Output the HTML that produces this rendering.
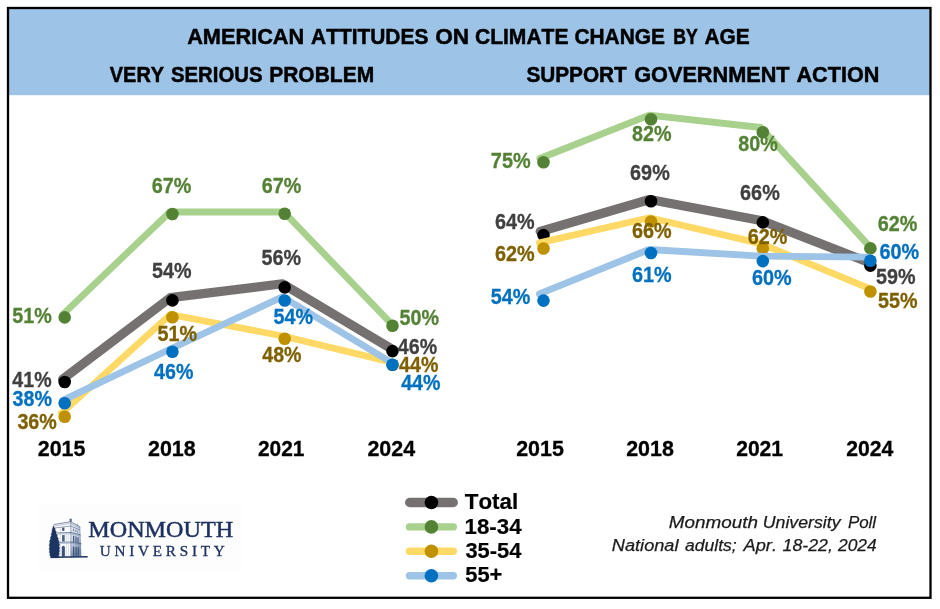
<!DOCTYPE html>
<html lang="en"><head><meta charset="utf-8"><title>American Attitudes on Climate Change by Age</title>
<style>
html,body{margin:0;padding:0;background:#fff;}
body{width:940px;height:609px;overflow:hidden;}
svg{display:block;filter:blur(0.45px);}
text{font-family:"Liberation Sans",sans-serif;font-kerning:none;}
.hd{font-weight:bold;font-size:22.3px;fill:#000;stroke:#000;stroke-width:0.5px;}
.yr{font-weight:bold;font-size:22.4px;fill:#000;stroke:#000;stroke-width:0.3px;}
.dl{font-weight:bold;font-size:21.5px;stroke-width:0.3px;}
.lg{font-weight:bold;font-size:22px;fill:#000;stroke:#000;stroke-width:0.2px;}
.src{font-style:italic;font-size:17.2px;fill:#1a1a1a;stroke:#1a1a1a;stroke-width:0.25px;}
.logo text{font-family:"Liberation Serif",serif;fill:#1c3160;stroke:#1c3160;}
</style></head><body>
<svg width="940" height="609" viewBox="0 0 940 609">
<rect x="0" y="0" width="940" height="609" fill="#fff"/>
<rect x="8" y="8" width="923" height="87.2" fill="#9DC3E6"/>
<rect x="8" y="8" width="922.5" height="589.8" fill="none" stroke="#000" stroke-width="2.3"/>
<text class="hd" y="43.8"><tspan x="187.16" textLength="117.11" lengthAdjust="spacingAndGlyphs">AMERICAN</tspan> <tspan x="311.08" textLength="117.24" lengthAdjust="spacingAndGlyphs">ATTITUDES</tspan> <tspan x="435.27" textLength="33.95" lengthAdjust="spacingAndGlyphs">ON</tspan> <tspan x="474.94" textLength="93.59" lengthAdjust="spacingAndGlyphs">CLIMATE</tspan> <tspan x="574.44" textLength="90.57" lengthAdjust="spacingAndGlyphs">CHANGE</tspan> <tspan x="673.22" textLength="24.57" lengthAdjust="spacingAndGlyphs">BY</tspan> <tspan x="704.48" textLength="45.34" lengthAdjust="spacingAndGlyphs">AGE</tspan></text>
<text class="hd" y="82.2"><tspan x="109.76" textLength="54.36" lengthAdjust="spacingAndGlyphs">VERY</tspan> <tspan x="170.91" textLength="91.68" lengthAdjust="spacingAndGlyphs">SERIOUS</tspan> <tspan x="269.2" textLength="105.01" lengthAdjust="spacingAndGlyphs">PROBLEM</tspan></text>
<text class="hd" y="82.2"><tspan x="526.4" textLength="100.42" lengthAdjust="spacingAndGlyphs">SUPPORT</tspan> <tspan x="634.21" textLength="155.42" lengthAdjust="spacingAndGlyphs">GOVERNMENT</tspan> <tspan x="796.46" textLength="82.9" lengthAdjust="spacingAndGlyphs">ACTION</tspan></text>
<g id="left-chart">
<polyline points="62.7,379.2 170.4,297.6 282.4,283.8 390.5,348.3" fill="none" stroke="#767171" stroke-width="9.2" stroke-linecap="round" stroke-linejoin="round"/>
<circle cx="64.7" cy="382.0" r="6.3" fill="#000000"/>
<circle cx="172.4" cy="300.4" r="6.3" fill="#000000"/>
<circle cx="284.7" cy="287.4" r="6.3" fill="#000000"/>
<circle cx="392.5" cy="351.1" r="6.3" fill="#000000"/>
<polyline points="62.7,314.6 169.9,212.0 283.9,212.0 390.5,322.9" fill="none" stroke="#A9D18E" stroke-width="6.8" stroke-linecap="round" stroke-linejoin="round"/>
<circle cx="64.7" cy="317.4" r="6.3" fill="#548235"/>
<circle cx="172.4" cy="214.0" r="6.3" fill="#548235"/>
<circle cx="284.7" cy="213.8" r="6.3" fill="#548235"/>
<circle cx="392.5" cy="325.7" r="6.3" fill="#548235"/>
<polyline points="61.5,413.2 170.4,314.5 282.7,336.0 390.5,361.9" fill="none" stroke="#FFD966" stroke-width="6.8" stroke-linecap="round" stroke-linejoin="round"/>
<circle cx="64.7" cy="416.7" r="6.3" fill="#BF9000"/>
<circle cx="172.4" cy="317.3" r="6.3" fill="#BF9000"/>
<circle cx="284.7" cy="338.8" r="6.3" fill="#BF9000"/>
<circle cx="392.5" cy="364.7" r="6.3" fill="#BF9000"/>
<polyline points="62.7,400.4 170.4,349.0 282.4,296.9 390.5,361.9" fill="none" stroke="#9DC3E6" stroke-width="6.8" stroke-linecap="round" stroke-linejoin="round"/>
<circle cx="64.7" cy="403.2" r="6.3" fill="#0070C0"/>
<circle cx="172.4" cy="351.8" r="6.3" fill="#0070C0"/>
<circle cx="284.7" cy="300.5" r="6.3" fill="#0070C0"/>
<circle cx="392.5" cy="364.7" r="6.3" fill="#0070C0"/>
</g>
<g id="right-chart">
<polyline points="540.2,231.5 649.6,199.5 760.8,220.4 868.4,262.3" fill="none" stroke="#767171" stroke-width="9.2" stroke-linecap="round" stroke-linejoin="round"/>
<circle cx="543.5" cy="235.1" r="6.3" fill="#000000"/>
<circle cx="651.0" cy="201.3" r="6.3" fill="#000000"/>
<circle cx="762.8" cy="222.4" r="6.3" fill="#000000"/>
<circle cx="870.4" cy="265.6" r="6.3" fill="#000000"/>
<polyline points="539.8,158.5 649.3,115.2 760.8,127.5 868.4,245.1" fill="none" stroke="#A9D18E" stroke-width="6.8" stroke-linecap="round" stroke-linejoin="round"/>
<circle cx="543.5" cy="162.3" r="6.3" fill="#548235"/>
<circle cx="651.0" cy="119.2" r="6.3" fill="#548235"/>
<circle cx="762.8" cy="132.2" r="6.3" fill="#548235"/>
<circle cx="870.4" cy="248.4" r="6.3" fill="#548235"/>
<polyline points="539.4,242.9 649.5,217.7 760.8,243.6 868.4,288.2" fill="none" stroke="#FFD966" stroke-width="6.8" stroke-linecap="round" stroke-linejoin="round"/>
<circle cx="543.5" cy="248.5" r="6.3" fill="#BF9000"/>
<circle cx="651.0" cy="221.5" r="6.3" fill="#BF9000"/>
<circle cx="762.8" cy="248.5" r="6.3" fill="#BF9000"/>
<circle cx="870.4" cy="291.5" r="6.3" fill="#BF9000"/>
<polyline points="539.4,293.9 649.0,249.5 760.8,256.2 868.4,257.2" fill="none" stroke="#9DC3E6" stroke-width="6.8" stroke-linecap="round" stroke-linejoin="round"/>
<circle cx="543.5" cy="300.6" r="6.3" fill="#0070C0"/>
<circle cx="651.0" cy="253.0" r="6.3" fill="#0070C0"/>
<circle cx="762.8" cy="261.1" r="6.3" fill="#0070C0"/>
<circle cx="870.4" cy="260.7" r="6.3" fill="#0070C0"/>
</g>
<g id="labels">
<text class="dl" x="12.24" y="322.5" fill="#548235" stroke="#548235" textLength="39.53" lengthAdjust="spacingAndGlyphs">51%</text>
<text class="dl" x="12.35" y="387.3" fill="#404040" stroke="#404040" textLength="39.21" lengthAdjust="spacingAndGlyphs">41%</text>
<text class="dl" x="12.55" y="406.3" fill="#0070C0" stroke="#0070C0" textLength="39.37" lengthAdjust="spacingAndGlyphs">38%</text>
<text class="dl" x="17.45" y="429.2" fill="#7F6000" stroke="#7F6000" textLength="39.37" lengthAdjust="spacingAndGlyphs">36%</text>
<text class="dl" x="151.82" y="193.2" fill="#548235" stroke="#548235" textLength="39.65" lengthAdjust="spacingAndGlyphs">67%</text>
<text class="dl" x="151.94" y="277.9" fill="#404040" stroke="#404040" textLength="39.53" lengthAdjust="spacingAndGlyphs">54%</text>
<text class="dl" x="157.49" y="341.4" fill="#7F6000" stroke="#7F6000" textLength="39.53" lengthAdjust="spacingAndGlyphs">51%</text>
<text class="dl" x="154.1" y="379.1" fill="#0070C0" stroke="#0070C0" textLength="39.21" lengthAdjust="spacingAndGlyphs">46%</text>
<text class="dl" x="261.82" y="193.2" fill="#548235" stroke="#548235" textLength="39.65" lengthAdjust="spacingAndGlyphs">67%</text>
<text class="dl" x="261.54" y="264.6" fill="#404040" stroke="#404040" textLength="39.53" lengthAdjust="spacingAndGlyphs">56%</text>
<text class="dl" x="273.44" y="323.5" fill="#0070C0" stroke="#0070C0" textLength="39.53" lengthAdjust="spacingAndGlyphs">54%</text>
<text class="dl" x="262.25" y="362.4" fill="#7F6000" stroke="#7F6000" textLength="39.21" lengthAdjust="spacingAndGlyphs">48%</text>
<text class="dl" x="399.44" y="325.2" fill="#548235" stroke="#548235" textLength="39.53" lengthAdjust="spacingAndGlyphs">50%</text>
<text class="dl" x="397.85" y="354.3" fill="#404040" stroke="#404040" textLength="39.21" lengthAdjust="spacingAndGlyphs">46%</text>
<text class="dl" x="399.1" y="371.5" fill="#7F6000" stroke="#7F6000" textLength="39.21" lengthAdjust="spacingAndGlyphs">44%</text>
<text class="dl" x="401.2" y="389.5" fill="#0070C0" stroke="#0070C0" textLength="39.21" lengthAdjust="spacingAndGlyphs">44%</text>
<text class="dl" x="490.85" y="167.5" fill="#548235" stroke="#548235" textLength="39.78" lengthAdjust="spacingAndGlyphs">75%</text>
<text class="dl" x="494.92" y="228.5" fill="#404040" stroke="#404040" textLength="39.65" lengthAdjust="spacingAndGlyphs">64%</text>
<text class="dl" x="494.92" y="260.9" fill="#7F6000" stroke="#7F6000" textLength="39.65" lengthAdjust="spacingAndGlyphs">62%</text>
<text class="dl" x="490.74" y="303.5" fill="#0070C0" stroke="#0070C0" textLength="39.53" lengthAdjust="spacingAndGlyphs">54%</text>
<text class="dl" x="632.12" y="141.1" fill="#548235" stroke="#548235" textLength="39.55" lengthAdjust="spacingAndGlyphs">82%</text>
<text class="dl" x="630.12" y="180.0" fill="#404040" stroke="#404040" textLength="39.65" lengthAdjust="spacingAndGlyphs">69%</text>
<text class="dl" x="632.02" y="237.9" fill="#7F6000" stroke="#7F6000" textLength="39.65" lengthAdjust="spacingAndGlyphs">66%</text>
<text class="dl" x="632.02" y="282.0" fill="#0070C0" stroke="#0070C0" textLength="39.65" lengthAdjust="spacingAndGlyphs">61%</text>
<text class="dl" x="738.17" y="150.9" fill="#548235" stroke="#548235" textLength="39.55" lengthAdjust="spacingAndGlyphs">80%</text>
<text class="dl" x="740.12" y="199.7" fill="#404040" stroke="#404040" textLength="39.65" lengthAdjust="spacingAndGlyphs">66%</text>
<text class="dl" x="747.67" y="243.5" fill="#7F6000" stroke="#7F6000" textLength="39.65" lengthAdjust="spacingAndGlyphs">62%</text>
<text class="dl" x="751.92" y="284.9" fill="#0070C0" stroke="#0070C0" textLength="39.65" lengthAdjust="spacingAndGlyphs">60%</text>
<text class="dl" x="877.82" y="231.3" fill="#548235" stroke="#548235" textLength="39.65" lengthAdjust="spacingAndGlyphs">62%</text>
<text class="dl" x="876.04" y="284.3" fill="#404040" stroke="#404040" textLength="39.53" lengthAdjust="spacingAndGlyphs">59%</text>
<text class="dl" x="877.94" y="308.4" fill="#7F6000" stroke="#7F6000" textLength="39.53" lengthAdjust="spacingAndGlyphs">55%</text>
<text class="dl" x="879.52" y="259.1" fill="#0070C0" stroke="#0070C0" textLength="39.65" lengthAdjust="spacingAndGlyphs">60%</text>
</g>
<g id="years">
<text class="yr" x="37.76" y="456.2" textLength="47.74" lengthAdjust="spacingAndGlyphs">2015</text>
<text class="yr" x="147.96" y="456.2" textLength="47.7" lengthAdjust="spacingAndGlyphs">2018</text>
<text class="yr" x="257.98" y="456.2" textLength="46.51" lengthAdjust="spacingAndGlyphs">2021</text>
<text class="yr" x="367.46" y="456.2" textLength="47.66" lengthAdjust="spacingAndGlyphs">2024</text>
<text class="yr" x="516.16" y="456.2" textLength="47.74" lengthAdjust="spacingAndGlyphs">2015</text>
<text class="yr" x="626.16" y="456.2" textLength="47.7" lengthAdjust="spacingAndGlyphs">2018</text>
<text class="yr" x="736.17" y="456.2" textLength="46.92" lengthAdjust="spacingAndGlyphs">2021</text>
<text class="yr" x="846.17" y="456.2" textLength="47.15" lengthAdjust="spacingAndGlyphs">2024</text>
</g>
<g id="legend">
<line x1="409.8" y1="502.5" x2="453.2" y2="502.5" stroke="#767171" stroke-width="9.5" stroke-linecap="round"/>
<circle cx="431.4" cy="502.5" r="6.8" fill="#000000"/>
<text class="lg" x="464.75" y="509.3" textLength="53.44" lengthAdjust="spacingAndGlyphs">Total</text>
<line x1="409.5" y1="526.9" x2="453.3" y2="526.9" stroke="#A9D18E" stroke-width="7.4" stroke-linecap="round"/>
<circle cx="431.4" cy="526.9" r="6.8" fill="#548235"/>
<text class="lg" x="464.6" y="533.5" textLength="56.92" lengthAdjust="spacingAndGlyphs">18-34</text>
<line x1="409.5" y1="551.3" x2="453.3" y2="551.3" stroke="#FFD966" stroke-width="7.4" stroke-linecap="round"/>
<circle cx="431.4" cy="551.3" r="6.8" fill="#BF9000"/>
<text class="lg" x="465.4" y="557.7" textLength="55.92" lengthAdjust="spacingAndGlyphs">35-54</text>
<line x1="409.5" y1="575.7" x2="453.3" y2="575.7" stroke="#9DC3E6" stroke-width="7.4" stroke-linecap="round"/>
<circle cx="431.4" cy="575.7" r="6.8" fill="#0070C0"/>
<text class="lg" x="465.23" y="582.2" textLength="37.16" lengthAdjust="spacingAndGlyphs">55+</text>
</g>
<text class="src" y="527.9"><tspan x="668.82" textLength="89.15" lengthAdjust="spacingAndGlyphs">Monmouth</tspan> <tspan x="762.78" textLength="77.73" lengthAdjust="spacingAndGlyphs">University</tspan> <tspan x="847.88" textLength="28.24" lengthAdjust="spacingAndGlyphs">Poll</tspan></text>
<text class="src" y="551.4"><tspan x="611.84" textLength="66.65" lengthAdjust="spacingAndGlyphs">National</tspan> <tspan x="685.01" textLength="51.69" lengthAdjust="spacingAndGlyphs">adults;</tspan> <tspan x="743.5" textLength="33.54" lengthAdjust="spacingAndGlyphs">Apr.</tspan> <tspan x="782.64" textLength="50.22" lengthAdjust="spacingAndGlyphs">18-22,</tspan> <tspan x="838.0" textLength="38.75" lengthAdjust="spacingAndGlyphs">2024</tspan></text>
<g class="logo">
<rect x="38" y="503" width="204" height="68" fill="#fdfdfd"/>
<defs>
<linearGradient id="rf" x1="0" y1="0" x2="0.35" y2="1"><stop offset="0" stop-color="#f1f3f8"/><stop offset="0.55" stop-color="#cdd5e3"/><stop offset="1" stop-color="#6f85a8"/></linearGradient>
</defs>
<g id="logo-icon">
<polygon points="54.3,524.7 70.8,521.9 70.8,557.2 54.3,557.5" fill="#fbfcfe"/>
<polygon points="70.8,521.9 79.7,526.9 81.1,556.6 70.8,557.2" fill="url(#rf)"/>
<g fill="none" stroke="#1b3461" stroke-width="0.55" stroke-linecap="round">
<path d="M54.0,524.5 L70.7,521.7 L79.9,526.8"/>
<path d="M54.8,525.9 L70.7,523.3 L79.6,528.0" stroke-width="0.4" stroke="#5a6f96"/>
<path d="M55.4,527.9 L70.8,526.0 L79.8,529.9" stroke-width="0.45"/>
<path d="M57.2,533.0 L70.8,532.5 L80.3,534.8" stroke-width="0.6"/>
<path d="M57.6,534.2 L70.8,533.8 L80.4,536.0" stroke-width="0.35" stroke="#5a6f96"/>
<path d="M58.6,542.4 L70.8,542.0 L80.9,543.6" stroke-width="0.6"/>
<path d="M58.8,543.6 L70.8,543.3 L81.0,544.8" stroke-width="0.35" stroke="#5a6f96"/>
<path d="M70.8,521.9 V557.2" stroke-width="0.45" stroke="#3c5482"/>
<path d="M79.8,527 L81.1,556.6" stroke-width="0.4" stroke="#3c5482"/>
<path d="M66.4,534 V556.8 M68.4,534 V556.8 M60.3,528 V557" stroke-width="0.35" stroke="#9aa9c4"/>
<path d="M70.0,518.9 h1.5 v2.6 h-1.5 z" fill="#5a6f96" stroke-width="0.3"/>
<path d="M77.6,524.2 v1.6" stroke-width="0.5" stroke="#5a6f96"/>
</g>
<g fill="#1b3461">
<rect x="62.2" y="527.6" width="2.2" height="3.3" opacity="0.85"/>
<rect x="62.1" y="535.1" width="2.6" height="6.4" opacity="0.8"/>
<path d="M61.8,556.8 V547.0 Q63.3,544.6 64.9,547.0 V556.8 Z" opacity="0.85"/>
<rect x="73.0" y="528.6" width="1.0" height="2.6" opacity="0.55"/><rect x="75.3" y="529.6" width="1.0" height="2.4" opacity="0.55"/><rect x="77.3" y="530.5" width="0.9" height="2.2" opacity="0.55"/>
<rect x="73.0" y="535.8" width="1.2" height="6.2" opacity="0.8"/><rect x="75.4" y="536.4" width="1.1" height="6.0" opacity="0.8"/><rect x="77.5" y="537.0" width="1.0" height="5.8" opacity="0.8"/>
<rect x="73.0" y="546.6" width="1.2" height="9.2" opacity="0.75"/><rect x="75.5" y="546.9" width="1.1" height="8.8" opacity="0.75"/><rect x="77.7" y="547.2" width="1.0" height="8.4" opacity="0.75"/>
<path d="M50.6,556.4 L87.6,555.9 L87.7,557.6 L50.6,558.0 Z"/>
<path d="M53.5,525.8 L52.5,529.0 L51.9,530.9 L52.2,531.7 L51.2,534.5 L51.6,535.3 L50.3,538.0 L50.8,538.8 L49.5,541.6 L50.0,542.5 L49.2,545.5 L49.8,546.5 L49.2,549.1 L49.8,550.1 L49.4,552.6 L50.1,553.4 L49.8,555.4 L50.9,556.2 L50.7,557.7 L58.6,557.7 L58.7,555.0 L59.4,553.8 L58.8,552.6 L59.6,551.0 L59.0,549.9 L59.6,547.9 L59.0,546.7 L59.5,544.3 L58.7,543.2 L59.0,541.2 L58.0,540.0 L58.2,538.0 L57.1,536.9 L57.2,534.9 L56.1,533.7 L56.2,531.7 L55.2,530.5 L55.0,528.6 L54.1,527.4 Z" stroke="#1b3461" stroke-width="0.5" stroke-linejoin="round"/>
</g>
</g>
<text x="88.3" y="537.4" font-size="22.2" stroke-width="0.45" textLength="144.8" lengthAdjust="spacingAndGlyphs">MONMOUTH</text>
<text x="99.76" y="555.7" font-size="15.2" stroke-width="0.3" textLength="124.97" lengthAdjust="spacing">UNIVERSITY</text>
</g>
</svg>
</body></html>
